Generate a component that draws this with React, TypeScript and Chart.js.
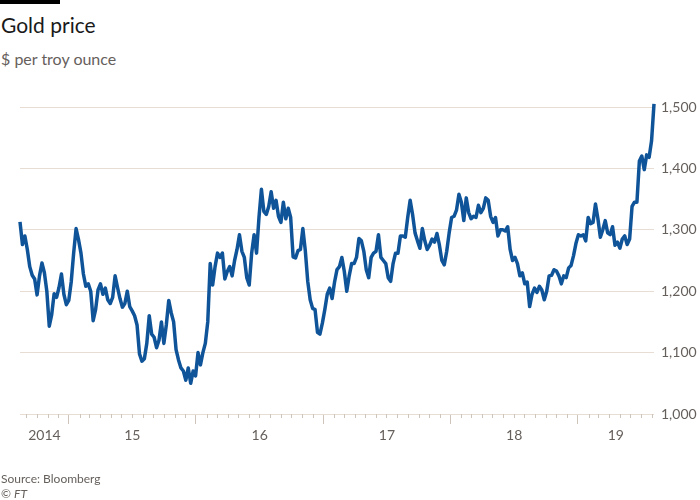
import React, { useEffect, useRef } from 'react';
import { Chart, registerables } from 'chart.js';

Chart.register(...registerables);

// ---- Data: weekly gold price ($ per troy ounce), first value on 14 Aug 2014 ----
const DAY = 86400000;
const WEEK = 7 * DAY;
const START = Date.UTC(2014, 7, 14);

const gold2014 = [1313, 1276, 1290, 1268, 1240, 1226, 1220, 1194, 1225, 1246, 1230, 1200, 1143, 1162, 1196, 1190, 1206, 1228, 1195, 1178];
const gold2015 = [1185, 1215, 1262, 1302, 1284, 1262, 1228, 1208, 1212, 1200, 1152, 1170, 1202, 1212, 1195, 1205, 1186, 1180, 1190, 1225, 1206, 1188, 1174, 1180, 1200, 1175, 1168, 1160, 1145, 1098, 1086, 1090, 1115, 1160, 1130, 1125, 1108, 1120, 1150, 1115, 1145, 1185, 1165, 1150, 1105, 1088, 1075, 1070, 1055, 1075, 1050, 1070, 1062];
const gold2016 = [1100, 1080, 1100, 1115, 1150, 1245, 1210, 1240, 1262, 1255, 1262, 1220, 1232, 1240, 1225, 1250, 1268, 1292, 1265, 1255, 1222, 1210, 1262, 1292, 1262, 1320, 1366, 1330, 1325, 1338, 1362, 1335, 1348, 1322, 1312, 1345, 1318, 1335, 1320, 1256, 1254, 1266, 1268, 1302, 1266, 1216, 1186, 1172, 1170, 1133, 1130, 1148];
const gold2017 = [1170, 1195, 1205, 1188, 1215, 1235, 1240, 1255, 1232, 1200, 1225, 1245, 1245, 1255, 1286, 1282, 1265, 1235, 1222, 1255, 1262, 1265, 1292, 1255, 1250, 1245, 1222, 1216, 1245, 1262, 1262, 1290, 1290, 1288, 1320, 1348, 1325, 1295, 1282, 1270, 1302, 1282, 1268, 1275, 1285, 1280, 1294, 1275, 1250, 1243, 1265, 1295];
const gold2018 = [1320, 1322, 1332, 1358, 1345, 1315, 1352, 1328, 1318, 1322, 1320, 1340, 1328, 1335, 1352, 1348, 1322, 1312, 1320, 1290, 1300, 1300, 1298, 1305, 1268, 1250, 1255, 1245, 1225, 1230, 1212, 1215, 1175, 1195, 1205, 1198, 1208, 1202, 1186, 1200, 1225, 1226, 1235, 1233, 1225, 1212, 1225, 1222, 1238, 1242, 1258, 1278];
const gold2019 = [1292, 1290, 1292, 1282, 1320, 1310, 1312, 1342, 1318, 1288, 1300, 1315, 1295, 1292, 1305, 1275, 1280, 1270, 1285, 1290, 1276, 1285, 1338, 1345, 1345, 1412, 1420, 1398, 1422, 1418, 1445, 1505];

const prices = [...gold2014, ...gold2015, ...gold2016, ...gold2017, ...gold2018, ...gold2019];

const years = [2014, 2015, 2016, 2017, 2018, 2019];
const yearLabels = ['2014', '15', '16', '17', '18', '19'];
const Y_MIN = 1000;
const Y_MAX = 1500;
const Y_STEP = 100;

const X_MIN = START;
const X_MAX = START + (prices.length - 1) * WEEK;

const FONT = 'Lato, "Open Sans", sans-serif';
const GREY = '#66605c';
const GRID = '#e8ddd3';
const TICK = '#cfc4ba';
const LINE = '#0f5499';

const yearStarts = years.slice(1).map((y) => Date.UTC(y, 0, 1));
const labelPositions = years.map((y) => {
  const a = Math.max(Date.UTC(y, 0, 1), X_MIN);
  const b = Math.min(Date.UTC(y + 1, 0, 1), X_MAX);
  return (a + b) / 2;
});
const labelMap = new Map<number, string>();
labelPositions.forEach((v, i) => labelMap.set(v, yearLabels[i]));
const yearStartSet = new Set<number>(yearStarts);

const minorTicks = {
  id: 'minorTicks',
  afterDraw(chart: any) {
    const xs = chart.scales.x;
    const ctx = chart.ctx;
    const bottom = chart.chartArea.bottom;
    ctx.save();
    ctx.strokeStyle = TICK;
    ctx.lineWidth = 1;
    for (const y of years) {
      for (let m = 1; m < 12; m++) {
        const v = Date.UTC(y, m, 1);
        if (v < xs.min || v > xs.max) continue;
        const px = Math.round(xs.getPixelForValue(v)) + 0.5;
        ctx.beginPath();
        ctx.moveTo(px, bottom);
        ctx.lineTo(px, bottom + 4);
        ctx.stroke();
      }
    }
    ctx.restore();
  },
};

export default function App() {
  const ref = useRef<HTMLCanvasElement | null>(null);

  useEffect(() => {
    if (!ref.current) return;
    const chart = new Chart(ref.current, {
      type: 'line',
      data: {
        datasets: [
          {
            data: prices.map((v, i) => ({ x: START + i * WEEK, y: v })),
            borderColor: LINE,
            borderWidth: 3.5,
            pointRadius: 0,
            tension: 0,
            clip: false as any,
            borderJoinStyle: 'round',
          },
        ],
      },
      options: {
        animation: false,
        responsive: false,
        devicePixelRatio: 1,
        layout: { padding: { top: 107, left: 20, right: 0, bottom: 0 } },
        plugins: { legend: { display: false }, tooltip: { enabled: false } },
        scales: {
          x: {
            type: 'linear',
            min: X_MIN,
            max: X_MAX,
            afterBuildTicks: (scale: any) => {
              scale.ticks = [...yearStarts, ...labelPositions]
                .sort((a, b) => a - b)
                .map((value) => ({ value }));
            },
            afterFit: (scale: any) => {
              scale.height = 86;
            },
            ticks: {
              autoSkip: false,
              maxRotation: 0,
              minRotation: 0,
              padding: 3,
              color: GREY,
              font: { family: FONT, size: 14 },
              callback: (value: any) => labelMap.get(Number(value)) ?? '',
            },
            grid: {
              drawOnChartArea: false,
              drawTicks: true,
              tickLength: 10,
              tickWidth: 1,
              tickColor: (ctx: any) =>
                ctx.tick && yearStartSet.has(ctx.tick.value) ? TICK : 'rgba(0,0,0,0)',
            },
            border: { display: false },
          },
          y: {
            position: 'right',
            min: Y_MIN,
            max: Y_MAX,
            afterFit: (scale: any) => {
              scale.width = 46;
            },
            ticks: {
              stepSize: Y_STEP,
              padding: 7,
              color: GREY,
              font: { family: FONT, size: 14 },
              callback: (value: any) => Number(value).toLocaleString('en-US'),
            },
            grid: { color: GRID, lineWidth: 1, drawTicks: false },
            border: { display: false },
          },
        },
      },
      plugins: [minorTicks],
    });
    return () => chart.destroy();
  }, []);

  return (
    <div
      style={{
        position: 'fixed',
        left: 0,
        top: 0,
        width: 700,
        height: 500,
        background: '#fff',
        fontFamily: FONT,
      }}
    >
      <div style={{ position: 'absolute', left: 0, top: 0, width: 60, height: 4, background: '#000' }} />
      <div style={{ position: 'absolute', left: 1, top: 12, fontSize: 21, lineHeight: 'normal', color: '#1a1a1a', whiteSpace: 'nowrap' }}>
        Gold price
      </div>
      <div style={{ position: 'absolute', left: 1, top: 49, fontSize: 16, lineHeight: 'normal', color: GREY, whiteSpace: 'nowrap' }}>
        $ per troy ounce
      </div>
      <canvas ref={ref} width={700} height={500} style={{ position: 'absolute', left: 0, top: 0, width: 700, height: 500 }} />
      <div style={{ position: 'absolute', left: 1, top: 471, fontSize: 12, lineHeight: 'normal', color: GREY, whiteSpace: 'nowrap' }}>
        Source: Bloomberg
      </div>
      <div style={{ position: 'absolute', left: 1, top: 486, fontSize: 12, lineHeight: 'normal', color: GREY, whiteSpace: 'nowrap' }}>
        © <i>FT</i>
      </div>
    </div>
  );
}
